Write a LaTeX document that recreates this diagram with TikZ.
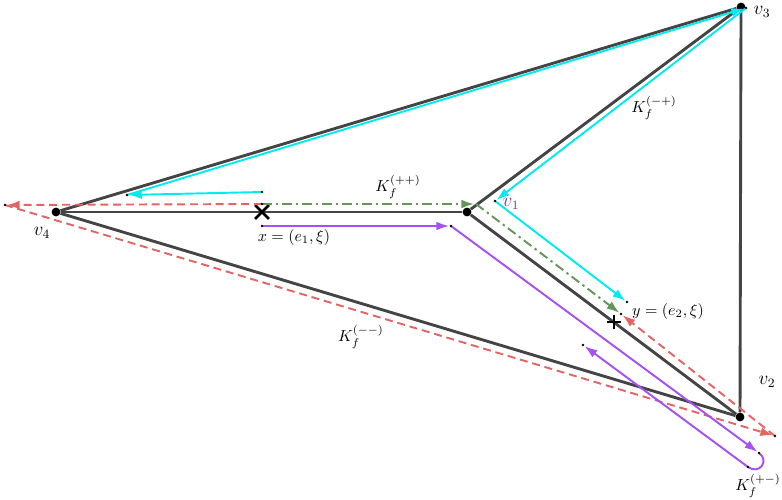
\documentclass[tikz,border=0pt]{standalone}
\usepackage{tikz}
\usepackage{amsmath}
\usetikzlibrary{arrows.meta,shapes.misc,positioning,calc}
\definecolor{edgeGray}  {RGB}{68, 68, 68}
\definecolor{kCyan}     {RGB}{0, 235, 240}
\definecolor{kGreen}    {RGB}{100,150, 90}
\definecolor{kRed}      {RGB}{228,100,100}
\definecolor{kPurple}   {RGB}{165, 80,245}
\definecolor{labPurple} {RGB}{120, 50,180}

\tikzset{
  vtx/.style={circle,fill=black,inner sep=0pt,minimum size=5.5pt},
  edge/.style={edgeGray,line width=1.8pt},
  flow/.style={line width=1.2pt,-{Latex[length=8pt,width=5.5pt]},shorten >=1.2pt},
  cyanflow/.style={flow,kCyan},
  greenflow/.style={flow,kGreen,dash pattern=on 6pt off 2.5pt on 1.5pt off 2.5pt},
  redflow/.style={flow,kRed,dash pattern=on 5pt off 3pt},
  purpleflow/.style={flow,kPurple},
}

\begin{document}
\begin{tikzpicture}[x=0.625pt,y=-0.625pt]
  \useasboundingbox (0,0) rectangle (782,499);

  % vertices
  \node[vtx] (v4) at (56,212) {};
  \node[vtx] (v1) at (467,212) {};
  \node[vtx] (v3) at (741,7) {};
  \node[vtx] (v2) at (740,417) {};

  % edges
  \draw[edge] (v4) -- (v1);
  \draw[edge] (v1) -- (v3);
  \draw[edge] (v1) -- (v2);
  \draw[edge] (v3) -- (v2);
  \draw[edge] (v4) -- (v3);
  \draw[edge] (v4) -- (v2);

  % points x and y
  \node[cross out,draw,line width=1.7pt,minimum size=7pt,inner sep=0pt] (xm) at (262,212) {};
  \coordinate (ym) at (614,322);
  \draw[line width=1.7pt] ($(ym)+(-7,0)$) -- ($(ym)+(7,0)$)
                          ($(ym)+(0,-7)$) -- ($(ym)+(0,7)$);

  % path corners
  \coordinate (c0) at (262,192);
  \coordinate (c1) at (127,195);
  \coordinate (c2) at (746,8);
  \coordinate (c3) at (495,201);
  \coordinate (c4) at (627,302);
  \coordinate (g0) at (262,204);
  \coordinate (g1) at (476,204);
  \coordinate (g2) at (621,314);
  \coordinate (r1) at (5,205);
  \coordinate (r2) at (775,436);
  \coordinate (p0) at (262,226);
  \coordinate (p1) at (451,226);
  \coordinate (p2) at (759,453);
  \coordinate (p3) at (748,467);
  \coordinate (p4) at (583,345);

  % K_f^{(-+)}
  \foreach \a/\b in {c0/c1, c1/c2, c2/c3, c3/c4}
    \draw[cyanflow] (\a) -- (\b);
  % K_f^{(++)}
  \foreach \a/\b in {g0/g1, g1/g2}
    \draw[greenflow] (\a) -- (\b);
  % K_f^{(--)}
  \foreach \a/\b in {g0/r1, r1/r2, r2/g2}
    \draw[redflow] (\a) -- (\b);
  % K_f^{(+-)}
  \foreach \a/\b in {p0/p1, p1/p2}
    \draw[purpleflow] (\a) -- (\b);
  \draw[kPurple,line width=1.2pt] (p2) .. controls +(11,8) and +(11,8) .. (p3);
  \draw[purpleflow] (p3) -- (p4);

  \foreach \p in {c0,c1,c2,c3,c4,g0,g2,r1,r2,p0,p1,p2,p3,p4}
    \fill (\p) circle (0.9pt);

  % labels
  \node[font=\large] (lv4) at (42,233) {$v_4$};
  \node[font=\large,labPurple] (lv1) at (511,204) {$v_1$};
  \node[font=\large] (lv3) at (762,12) {$v_3$};
  \node[font=\large] (lv2) at (767,382) {$v_2$};
  \node (lx) at (294,237) {$x=(e_1,\xi)$};
  \node (ly) at (668,311) {$y=(e_2,\xi)$};
  \node (kpp) at (398,187) {$K_f^{(++)}$};
  \node (kmp) at (654,108) {$K_f^{(-+)}$};
  \node (kmm) at (361,337) {$K_f^{(--)}$};
  \node (kpm) at (758,486) {$K_f^{(+-)}$};
\end{tikzpicture}
\end{document}
